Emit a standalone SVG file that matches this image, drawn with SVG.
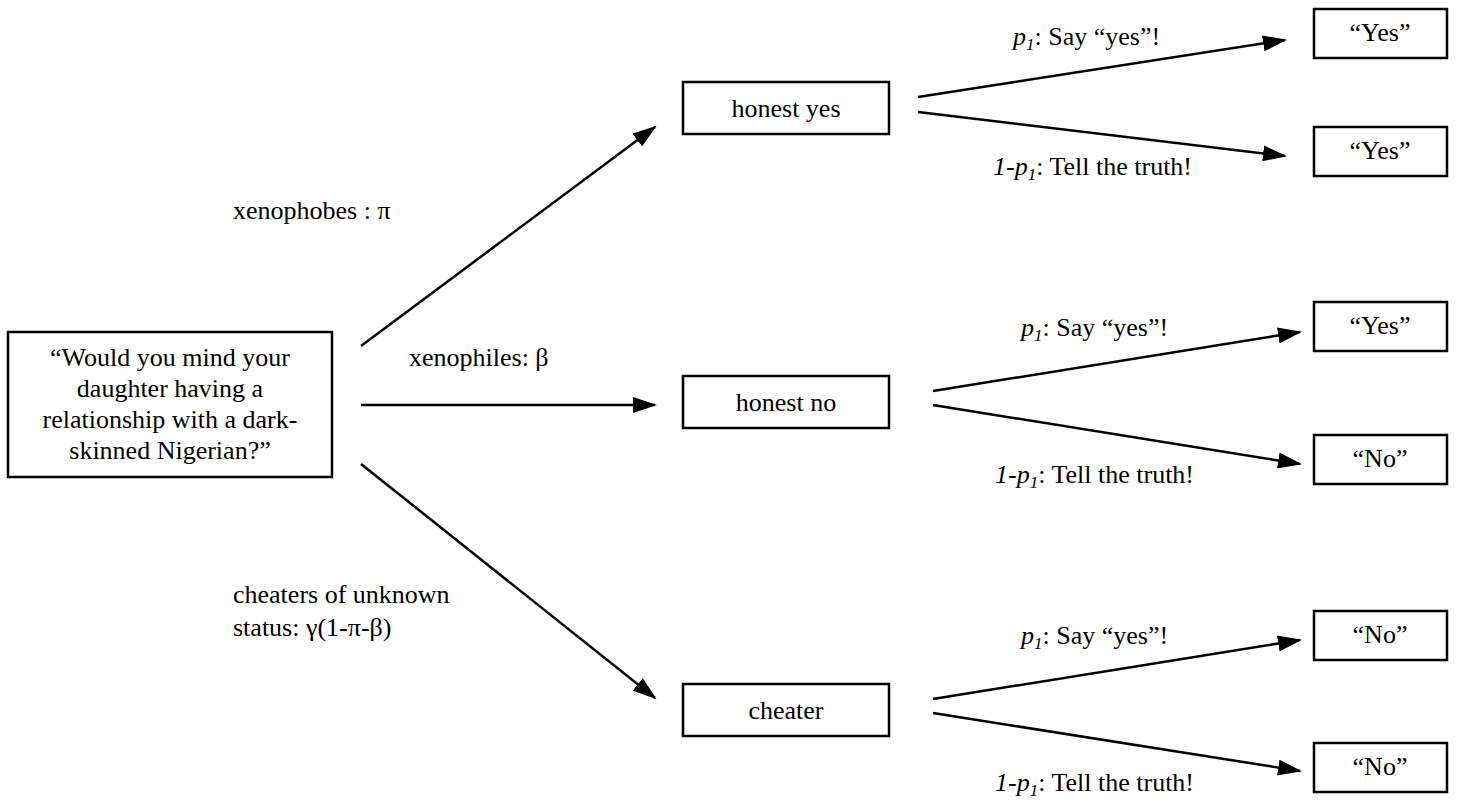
<svg xmlns="http://www.w3.org/2000/svg" width="1458" height="803" viewBox="0 0 1458 803">
<defs>
<marker id="ah" markerUnits="userSpaceOnUse" markerWidth="24" markerHeight="16" refX="22" refY="8" orient="auto">
<path d="M0,0 L24,8 L0,16 Z" fill="#000"/>
</marker>
<style>
.box{fill:#fff;stroke:#000;stroke-width:2.5}
.t{font-size:26px;fill:#000}
.c{text-anchor:middle}
.i{font-style:italic}
.s{font-size:17px;font-style:italic}
.ln{stroke:#000;stroke-width:2.5;fill:none;marker-end:url(#ah)}
</style>
</defs>
<rect width="1458" height="803" fill="#fff"/>
<g id="connectors">
<line class="ln" x1="361" y1="346" x2="655" y2="127"/>
<line class="ln" x1="361" y1="405" x2="655" y2="405"/>
<line class="ln" x1="361" y1="464" x2="655" y2="698"/>
<line class="ln" x1="918" y1="97" x2="1285" y2="40"/>
<line class="ln" x1="918" y1="112" x2="1285" y2="156"/>
<line class="ln" x1="933" y1="391" x2="1300" y2="332"/>
<line class="ln" x1="933" y1="405" x2="1300" y2="464"/>
<line class="ln" x1="933" y1="699" x2="1300" y2="640"/>
<line class="ln" x1="933" y1="713" x2="1300" y2="771"/>
</g>
<g font-family="Liberation Serif, Times New Roman, serif">
<g id="labels">
<text class="t" x="233" y="219">xenophobes : π</text>
<text class="t" x="409" y="366">xenophiles: β</text>
<text class="t" x="233" y="603">cheaters of unknown</text>
<text class="t" x="233" y="636">status: γ(1-π-β)</text>
<text class="t" x="1013" y="45"><tspan class="i">p</tspan><tspan class="s" dy="5">1</tspan><tspan dy="-5">: Say “yes”!</tspan></text>
<text class="t" x="993" y="175"><tspan class="i">1-p</tspan><tspan class="s" dy="5">1</tspan><tspan dy="-5">: Tell the truth!</tspan></text>
<text class="t" x="1021" y="336"><tspan class="i">p</tspan><tspan class="s" dy="5">1</tspan><tspan dy="-5">: Say “yes”!</tspan></text>
<text class="t" x="995" y="483"><tspan class="i">1-p</tspan><tspan class="s" dy="5">1</tspan><tspan dy="-5">: Tell the truth!</tspan></text>
<text class="t" x="1021" y="644"><tspan class="i">p</tspan><tspan class="s" dy="5">1</tspan><tspan dy="-5">: Say “yes”!</tspan></text>
<text class="t" x="995" y="791"><tspan class="i">1-p</tspan><tspan class="s" dy="5">1</tspan><tspan dy="-5">: Tell the truth!</tspan></text>
</g>
<g id="root">
<rect class="box" x="8" y="332" width="324" height="145"/>
<text class="t c" x="170" y="366">“Would you mind your</text>
<text class="t c" x="170" y="397">daughter having a</text>
<text class="t c" x="170" y="428">relationship with a dark-</text>
<text class="t c" x="170" y="459">skinned Nigerian?”</text>
</g>
<g id="honest-yes">
<rect class="box" x="683" y="82" width="206" height="52"/>
<text class="t c" x="786" y="117">honest yes</text>
</g>
<g id="honest-no">
<rect class="box" x="683" y="376" width="206" height="52"/>
<text class="t c" x="786" y="411">honest no</text>
</g>
<g id="cheater">
<rect class="box" x="683" y="684" width="206" height="52"/>
<text class="t c" x="786" y="719">cheater</text>
</g>
<g id="r1"><rect class="box" x="1314" y="9" width="133" height="49"/><text class="t c" x="1380" y="41">“Yes”</text></g>
<g id="r2"><rect class="box" x="1314" y="127" width="133" height="49"/><text class="t c" x="1380" y="159">“Yes”</text></g>
<g id="r3"><rect class="box" x="1314" y="302" width="133" height="49"/><text class="t c" x="1380" y="334">“Yes”</text></g>
<g id="r4"><rect class="box" x="1314" y="435" width="133" height="49"/><text class="t c" x="1380" y="467">“No”</text></g>
<g id="r5"><rect class="box" x="1314" y="611" width="133" height="49"/><text class="t c" x="1380" y="643">“No”</text></g>
<g id="r6"><rect class="box" x="1314" y="743" width="133" height="49"/><text class="t c" x="1380" y="775">“No”</text></g>
</g>
</svg>
